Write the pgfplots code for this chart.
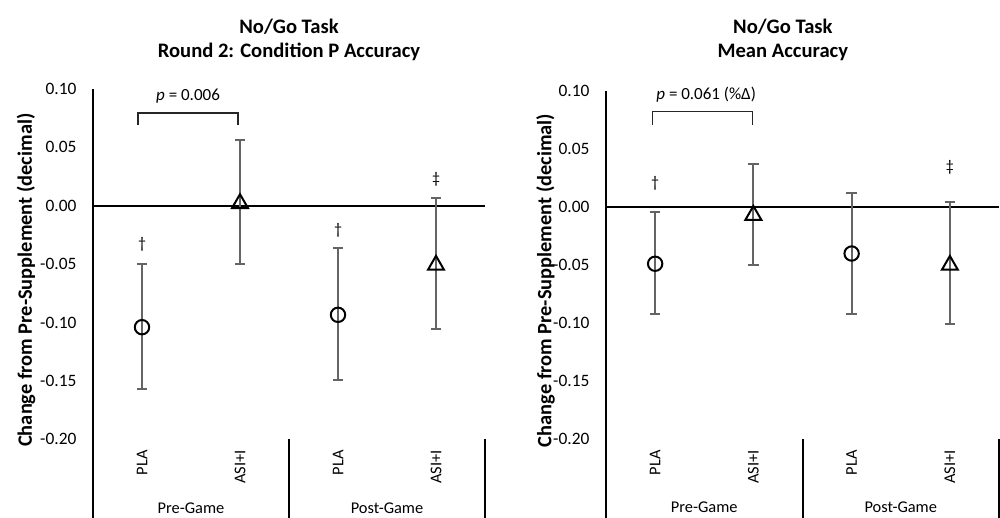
\documentclass[border=0pt]{standalone}
\usepackage{fontspec}
\setmainfont{Carlito}
\usepackage{pgfplots}
\pgfplotsset{compat=1.18}
\usepackage{pgfplotstable}
\definecolor{errgray}{RGB}{100,100,100}

\pgfplotstableread{
x y ep em
0.5 -0.1040 0.0540 0.0530
2.5 -0.0934 0.0569 0.0556
}\LPLA
\pgfplotstableread{
x y ep em
1.5 0.0020 0.0543 0.0520
3.5 -0.0508 0.0574 0.0549
}\LASI
\pgfplotstableread{
x y ep em
0.5 -0.0488 0.0442 0.0432
2.5 -0.0400 0.0520 0.0525
}\RPLA
\pgfplotstableread{
x y ep em
1.5 -0.0070 0.0444 0.0430
3.5 -0.0500 0.0543 0.0505
}\RASI

\pgfplotsset{
 myax/.style={
  scale only axis, clip=false,
  xmin=0, xmax=4, ymin=-0.2, ymax=0.1,
  axis x line*=bottom, axis y line*=left, axis line style={draw=none},
  major tick style={draw=none},
  ytick={-0.2,-0.15,-0.1,-0.05,0,0.05,0.1},
  yticklabels={-0.20,-0.15,-0.10,-0.05,0.00,0.05,0.10},
  xtick={0.5,1.5,2.5,3.5},
  xticklabels={PLA,ASI+I,PLA,ASI+I},
  xticklabel style={rotate=90, anchor=east, inner sep=0pt, font=\fontsize{8.2}{10}\selectfont},
  xticklabel shift=5.3pt,
  yticklabel style={anchor=east, inner sep=0pt, font=\fontsize{8.7}{10}\selectfont},
  yticklabel shift=8.1pt,
 },
 errs/.style={
  only marks,
  error bars/y dir=both, error bars/y explicit,
  error bars/error bar style={errgray, line width=1pt},
  error bars/error mark options={rotate=90, mark size=2.6pt, errgray, line width=1pt},
 },
 circ/.style={mark=o, mark size=3.6pt, mark options={black, fill=white, line width=1pt, solid}},
 tri/.style={mark=triangle, mark size=4.6pt, mark options={black, fill=white, line width=1pt, solid}},
}

\begin{document}
\begin{tikzpicture}
\useasboundingbox (0,0) rectangle (500pt,259pt);
% ---------- left panel ----------
\begin{axis}[myax, at={(46.5pt,39.35pt)}, anchor=south west, width=196pt, height=175.15pt]
\draw[black, line width=0.8pt] (axis cs:0,0.1) -- (axis cs:0,-0.268);
\draw[black, line width=1pt] (axis cs:0,0) -- (axis cs:4,0);
\draw[black, line width=1pt] (axis cs:2,-0.2) -- (axis cs:2,-0.268);
\draw[black, line width=1pt] (axis cs:4,-0.2) -- (axis cs:4,-0.268);
\addplot+[errs, circ] table[x=x, y=y, y error plus=ep, y error minus=em]{\LPLA};
\addplot+[errs, tri] table[x=x, y=y, y error plus=ep, y error minus=em]{\LASI};
\draw[black!85, line width=0.6pt] (axis cs:0.46,0.0691) -- (axis cs:0.46,0.0794) -- (axis cs:1.48,0.0794) -- (axis cs:1.48,0.0691);
\node[font=\fontsize{8.5}{10}\selectfont] at (axis cs:0.97,0.0943) {\textit{p} = 0.006};
\node[font=\fontsize{8}{9}\selectfont] at (axis cs:0.5,-0.0328) {†};
\node[font=\fontsize{8}{9}\selectfont] at (axis cs:2.5,-0.0208) {†};
\node[font=\fontsize{8}{9}\selectfont] at (axis cs:3.5,0.0229) {‡};
\node[font=\fontsize{8.2}{10}\selectfont] at (axis cs:1,-0.2589) {Pre-Game};
\node[font=\fontsize{8.2}{10}\selectfont] at (axis cs:3,-0.2589) {Post-Game};
\node[rotate=90, font=\bfseries\fontsize{10.2}{12}\selectfont] at (axis cs:-0.683,-0.0637) {Change from Pre-Supplement (decimal)};
\node[align=center, font=\bfseries\fontsize{10.3}{12}\selectfont] at (axis cs:2,0.1420) {No/Go Task\\Round 2: Condition P Accuracy};
\end{axis}
% ---------- right panel ----------
\begin{axis}[myax, at={(303pt,39.35pt)}, anchor=south west, width=196.5pt, height=174.15pt]
\draw[black, line width=0.8pt] (axis cs:0,0.1) -- (axis cs:0,-0.268);
\draw[black, line width=1pt] (axis cs:0,0) -- (axis cs:4,0);
\draw[black, line width=1pt] (axis cs:2,-0.2) -- (axis cs:2,-0.268);
\draw[black, line width=1pt] (axis cs:4,-0.2) -- (axis cs:4,-0.268);
\addplot+[errs, circ] table[x=x, y=y, y error plus=ep, y error minus=em]{\RPLA};
\addplot+[errs, tri] table[x=x, y=y, y error plus=ep, y error minus=em]{\RASI};
\draw[black!85, line width=0.6pt] (axis cs:0.475,0.0707) -- (axis cs:0.475,0.0822) -- (axis cs:1.49,0.0822) -- (axis cs:1.49,0.0707);
\node[font=\fontsize{8.5}{10}\selectfont] at (axis cs:1.02,0.0966) {\textit{p} = 0.061 (\%Δ)};
\node[font=\fontsize{8}{9}\selectfont] at (axis cs:0.5,0.0202) {†};
\node[font=\fontsize{8}{9}\selectfont] at (axis cs:3.5,0.0345) {‡};
\node[font=\fontsize{8.2}{10}\selectfont] at (axis cs:1,-0.2589) {Pre-Game};
\node[font=\fontsize{8.2}{10}\selectfont] at (axis cs:3,-0.2589) {Post-Game};
\node[rotate=90, font=\bfseries\fontsize{10.2}{12}\selectfont] at (axis cs:-0.615,-0.0631) {Change from Pre-Supplement (decimal)};
\node[align=center, font=\bfseries\fontsize{10.3}{12}\selectfont] at (axis cs:1.8,0.1439) {No/Go Task\\Mean Accuracy};
\end{axis}
\end{tikzpicture}
\end{document}
